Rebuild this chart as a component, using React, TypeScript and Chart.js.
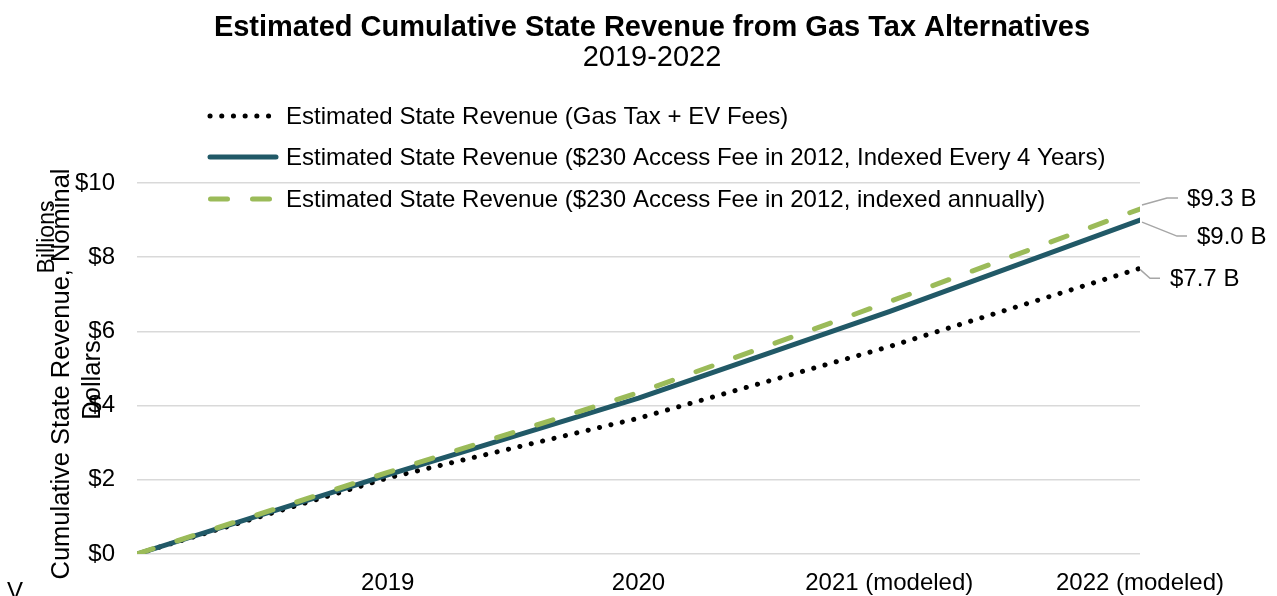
import React, { useEffect, useRef } from "react";
import { Chart, registerables } from "chart.js";

Chart.register(...registerables);

// ---- Data ----
const years = [2018, 2019, 2020, 2021, 2022];
const xTickYears = [2019, 2020, 2021, 2022];
const xTickLabels = ["2019", "2020", "2021 (modeled)", "2022 (modeled)"];
const yTickValues = [0, 2, 4, 6, 8, 10];

const gasTaxEV = [0, 2.05, 3.66, 5.59, 7.7];
const accessFee4yr = [0, 2.13, 4.2, 6.53, 9.0];
const accessFeeAnnual = [0, 2.2, 4.35, 6.8, 9.3];

const seriesNames = [
  "Estimated State Revenue (Gas Tax + EV Fees)",
  "Estimated State Revenue ($230 Access Fee in 2012, Indexed Every 4 Years)",
  "Estimated State Revenue ($230 Access Fee in 2012, indexed annually)",
];
const endLabels = ["$7.7 B", "$9.0 B", "$9.3 B"];

const titleText = "Estimated Cumulative State Revenue from Gas Tax Alternatives";
const subtitleText = "2019-2022";
const yTitleLines = ["Cumulative State Revenue, Nominal", "Dollars"];
const unitsText = "Billions";

const FONT = "'Liberation Sans', Arial, sans-serif";
const BLACK = "#000000";
const TEAL = "#215967";
const GREEN = "#9bbb59";
const GRID = "#d9d9d9";
const LEADER = "#a6a6a6";

const dotDash = [0.1, 11.6];
const greenDash = [17, 25];

const overlayPlugin = {
  id: "overlay",
  afterDraw(chart: any) {
    const ctx: CanvasRenderingContext2D = chart.ctx;
    const xs = chart.scales.x;
    const ys = chart.scales.y;
    ctx.save();

    // Title & subtitle
    ctx.fillStyle = BLACK;
    ctx.textAlign = "center";
    ctx.textBaseline = "middle";
    ctx.font = `bold 29px ${FONT}`;
    ctx.fillText(titleText, 652, 28);
    ctx.font = `29px ${FONT}`;
    ctx.fillText(subtitleText, 652, 58);

    // Legend
    const legendRows = [
      { y: 116, color: BLACK, dash: dotDash, width: 5, x0: 210, x1: 270 },
      { y: 157, color: TEAL, dash: [], width: 5, x0: 210, x1: 276 },
      { y: 199, color: GREEN, dash: greenDash, width: 5, x0: 210.5, x1: 270 },
    ];
    legendRows.forEach((r, i) => {
      ctx.save();
      ctx.strokeStyle = r.color;
      ctx.lineWidth = r.width;
      ctx.lineCap = "round";
      ctx.setLineDash(r.dash);
      ctx.beginPath();
      ctx.moveTo(r.x0, r.y);
      ctx.lineTo(r.x1, r.y);
      ctx.stroke();
      ctx.restore();
      ctx.fillStyle = BLACK;
      ctx.font = `24px ${FONT}`;
      ctx.textAlign = "left";
      ctx.textBaseline = "middle";
      ctx.fillText(seriesNames[i], 286, r.y + 1);
    });

    // Y axis title (two lines) and units
    ctx.fillStyle = BLACK;
    ctx.save();
    ctx.translate(62, 374);
    ctx.rotate(-Math.PI / 2);
    ctx.font = `25.5px ${FONT}`;
    ctx.textAlign = "center";
    ctx.textBaseline = "middle";
    ctx.fillText(yTitleLines[0], 0, 0);
    ctx.fillText(yTitleLines[1], -6, 31);
    ctx.restore();

    ctx.save();
    ctx.translate(48, 237);
    ctx.rotate(-Math.PI / 2);
    ctx.font = `23px ${FONT}`;
    ctx.textAlign = "center";
    ctx.textBaseline = "middle";
    ctx.fillText(unitsText, 0, 0);
    ctx.restore();

    // Clipped corner letter
    ctx.font = `24px ${FONT}`;
    ctx.textAlign = "left";
    ctx.textBaseline = "alphabetic";
    ctx.fillText("V", 7, 599);

    // End labels with leader lines
    const seriesList = [gasTaxEV, accessFee4yr, accessFeeAnnual];
    const leaders = [
      { p0: [0, 1], p1: [10, 10], p2: [20, 10], tx: 30 },
      { p0: [2, 2], p1: [37, 16], p2: [47, 16], tx: 57 },
      { p0: [2, -4], p1: [27, -11], p2: [38, -11], tx: 47 },
    ];
    const lastIdx = years.length - 1;
    const ex = xs.getPixelForValue(years[lastIdx]);
    seriesList.forEach((s, i) => {
      const ey = ys.getPixelForValue(s[lastIdx]);
      const L = leaders[i];
      ctx.strokeStyle = LEADER;
      ctx.lineWidth = 1.5;
      ctx.setLineDash([]);
      ctx.beginPath();
      ctx.moveTo(ex + L.p0[0], ey + L.p0[1]);
      ctx.lineTo(ex + L.p1[0], ey + L.p1[1]);
      ctx.lineTo(ex + L.p2[0], ey + L.p2[1]);
      ctx.stroke();
      ctx.fillStyle = BLACK;
      ctx.font = `24px ${FONT}`;
      ctx.textAlign = "left";
      ctx.textBaseline = "middle";
      ctx.fillText(endLabels[i], ex + L.tx, ey + L.p2[1] + 1);
    });

    ctx.restore();
  },
};

export default function App() {
  const canvasRef = useRef<HTMLCanvasElement | null>(null);

  useEffect(() => {
    if (!canvasRef.current) return;
    const chart = new Chart(canvasRef.current, {
      type: "line",
      data: {
        datasets: [
          {
            label: seriesNames[2],
            data: years.map((y, i) => ({ x: y, y: accessFeeAnnual[i] })),
            borderColor: GREEN,
            borderWidth: 5,
            borderDash: greenDash,
            borderCapStyle: "round",
            pointRadius: 0,
            tension: 0,
            order: 0,
          },
          {
            label: seriesNames[1],
            data: years.map((y, i) => ({ x: y, y: accessFee4yr[i] })),
            borderColor: TEAL,
            borderWidth: 5,
            borderCapStyle: "round",
            pointRadius: 0,
            tension: 0,
            order: 1,
          },
          {
            label: seriesNames[0],
            data: years.map((y, i) => ({ x: y, y: gasTaxEV[i] })),
            borderColor: BLACK,
            borderWidth: 5,
            borderDash: dotDash,
            borderCapStyle: "round",
            pointRadius: 0,
            tension: 0,
            order: 2,
          },
        ],
      },
      options: {
        responsive: false,
        animation: false,
        layout: { padding: { left: 0, top: 183, right: 137, bottom: 0 } },
        plugins: {
          legend: { display: false },
          title: { display: false },
          tooltip: { enabled: false },
        },
        scales: {
          x: {
            type: "linear",
            min: years[0],
            max: years[years.length - 1],
            border: { display: false },
            grid: { display: false, drawTicks: false },
            afterBuildTicks(scale: any) {
              scale.ticks = [years[0], ...xTickYears].map((v) => ({ value: v }));
            },
            afterFit(scale: any) {
              scale.height = 42;
            },
            ticks: {
              autoSkip: false,
              maxRotation: 0,
              padding: 15,
              color: BLACK,
              font: { family: FONT, size: 24 },
              callback: (v: any) => {
                const k = xTickYears.indexOf(Number(v));
                return k >= 0 ? xTickLabels[k] : "";
              },
            },
          },
          y: {
            type: "linear",
            min: yTickValues[0],
            max: yTickValues[yTickValues.length - 1],
            border: { display: false },
            grid: { color: GRID, lineWidth: 1.5, drawTicks: false },
            afterBuildTicks(scale: any) {
              scale.ticks = yTickValues.map((v) => ({ value: v }));
            },
            afterFit(scale: any) {
              scale.width = 137;
            },
            ticks: {
              padding: 22,
              color: BLACK,
              font: { family: FONT, size: 24 },
              callback: (v: any) => "$" + v,
            },
          },
        },
      },
      plugins: [overlayPlugin],
    } as any);
    return () => chart.destroy();
  }, []);

  return (
    <canvas
      ref={canvasRef}
      width={1277}
      height={596}
      style={{ position: "fixed", left: 0, top: 0, width: 1277, height: 596, display: "block", background: "#ffffff" }}
    />
  );
}
